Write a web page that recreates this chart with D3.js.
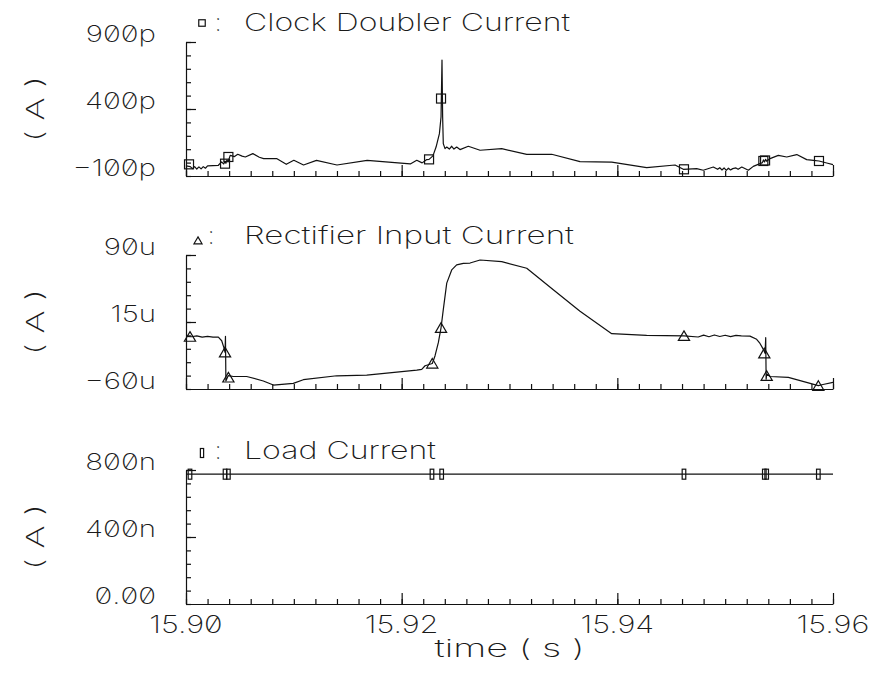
<!DOCTYPE html>
<html>
<head>
<meta charset="utf-8">
<script src="https://cdn.jsdelivr.net/npm/d3@7"></script>
<style>
  html, body { margin: 0; padding: 0; background: #fff; }
  svg { display: block; }
  text {
    font-family: Inter, "DejaVu Sans", sans-serif;
    font-weight: 200;
    fill: #1a1a1a;
  }
  /* zeros are shaped in their own runs so the slashed form is used */
  tspan.z { font-feature-settings: "zero" 1; }
</style>
</head>
<body>
<svg id="chart" width="878" height="675"></svg>
<script>
// ---- time axis -------------------------------------------------------
const timeDomain = [15.90, 15.96];
const timeMajorTicks = [15.90, 15.92, 15.94, 15.96];
const timeTickLabels = ["15.90", "15.92", "15.94", "15.96"];
const timeAxisTitle = "time ( s )";

// ---- Clock Doubler Current (pA) --------------------------------------
const clockTime = [
  15.90000, 15.90040, 15.90060, 15.90080, 15.90100, 15.90120, 15.90140, 15.90160,
  15.90180, 15.90200, 15.90250, 15.90300, 15.90330, 15.90350, 15.90360, 15.90370,
  15.90380, 15.90390, 15.90410, 15.90450, 15.90480, 15.90520, 15.90550, 15.90620,
  15.90680, 15.90720, 15.90840, 15.90930, 15.91000, 15.91090, 15.91210, 15.91400,
  15.91680, 15.92080, 15.92140, 15.92190, 15.92230, 15.92254, 15.92290, 15.92319,
  15.92350, 15.92365, 15.92374, 15.92380, 15.92386, 15.92402, 15.92418, 15.92442,
  15.92464, 15.92485, 15.92510, 15.92541, 15.92618, 15.92727, 15.92928, 15.93160,
  15.93391, 15.93654, 15.93948, 15.94272, 15.94535, 15.94612, 15.94736, 15.94797,
  15.94890, 15.94930, 15.94950, 15.94970, 15.94990, 15.95010, 15.95030, 15.95050,
  15.95070, 15.95100, 15.95120, 15.95154, 15.95215, 15.95261, 15.95323, 15.95345,
  15.95355, 15.95365, 15.95375, 15.95385, 15.95416, 15.95493, 15.95571, 15.95664,
  15.95756, 15.95818, 15.95870, 15.95942, 15.96000
];
const clockCurrent = [
  -25, -30, -45, -30, -48, -32, -47, -30,
  -42, -25, -22, -20, 5, -10, 10, -5,
  20, 5, 54, 45, 62, 48, 42, 67,
  40, 30, 30, -13, 17, -18, 17, -18,
  17, -10, 17, -2, 22, 24, 50, 116,
  216, 340, 765, 340, 142, 104, 116, 101,
  122, 101, 116, 97, 122, 92, 104, 62,
  62, 7, 4, -37, -18, -50, -45, -57,
  -33, -50, -38, -55, -40, -58, -42, -55,
  -45, -40, -50, -33, -57, -28, -8, 0,
  20, 5, 25, 10, 30, 54, 42, 60,
  22, 17, 12, -3, -15
];
const clockMarkerTime = [15.90028, 15.90362, 15.90393, 15.92254, 15.92365, 15.94618, 15.95354, 15.95370, 15.95870];
const clockMarkerValue = [-13, -8, 42, 24, 478, -50, 12, 16, 12];

// ---- Rectifier Input Current (uA) ------------------------------------
const rectTime = [
  15.90000, 15.90050, 15.90100, 15.90150, 15.90200, 15.90250, 15.90300, 15.90331,
  15.90352, 15.90362, 15.90366, 15.90370, 15.90392, 15.90439, 15.90563, 15.90717,
  15.90810, 15.90995, 15.91088, 15.91398, 15.91676, 15.92140, 15.92186, 15.92217,
  15.92284, 15.92309, 15.92340, 15.92365, 15.92386, 15.92418, 15.92464, 15.92510,
  15.92572, 15.92634, 15.92727, 15.92928, 15.93160, 15.93406, 15.93654, 15.93948,
  15.94272, 15.94618, 15.94750, 15.94800, 15.94850, 15.94900, 15.94950, 15.95000,
  15.95050, 15.95100, 15.95150, 15.95230, 15.95292, 15.95323, 15.95354, 15.95370,
  15.95376, 15.95380, 15.95385, 15.95416, 15.95586, 15.95864, 15.95907, 15.96000
];
const rectCurrent = [
  -1, -1.5, -0.5, -2, -1, -2, -2, -6,
  -14, -19, -1, -51, -45, -46, -46, -51,
  -55.6, -53.7, -49.6, -45.2, -44.4, -38.9, -38, -34,
  -31.4, -23, -8.1, 8.5, 28.9, 58.5, 73.3, 78.9,
  80.7, 81, 84.4, 82.6, 75.2, 51.1, 27, 1.9,
  0, -0.5, -1.8, 0.3, -1.5, 0.5, -1.2, 0.2,
  -1.4, 0, -0.5, -0.8, -4.4, -9, -15.6, -20,
  -2.6, -49, -43.3, -46, -47, -56.3, -55, -52.6
];
const rectMarkerTime = [15.90037, 15.90362, 15.90393, 15.92284, 15.92365, 15.94618, 15.95363, 15.95385, 15.95864];
const rectMarkerValue = [-1.4, -18.9, -47, -31.4, 8.5, -0.5, -20, -45.2, -56.3];

// ---- Load Current (nA) -----------------------------------------------
const loadTime = [15.90, 15.96];
const loadCurrent = [775, 775];
const loadMarkerTime = [15.90037, 15.90362, 15.90393, 15.92281, 15.92371, 15.94618, 15.95363, 15.95385, 15.95864];
const loadMarkerValue = [775, 775, 775, 775, 775, 775, 775, 775, 775];

// ---- y-axis ticks ----------------------------------------------------
const clockTicks = [900, 400, -100];
const clockTickLabels = ["900p", "400p", "\u2212100p"];
const rectTicks = [90, 15, -60];
const rectTickLabels = ["90u", "15u", "\u221260u"];
const loadTicks = [800, 400, 0];
const loadTickLabels = ["800n", "400n", "0.00"];

const unitLabel = "( A )";

// ---- layout ----------------------------------------------------------
const svg = d3.select("#chart");
const plotLeft = 186, plotRight = 833, plotHeight = 134;
const ink = "#111";

const x = d3.scaleLinear().domain(timeDomain).range([plotLeft, plotRight]);

const panels = [
  { top: 42,  title: "Clock Doubler Current",   marker: "square",
    titleWidth: 326, colonX: 218,
    domain: [-100, 900], ticks: clockTicks, tickLabels: clockTickLabels,
    t: clockTime, v: clockCurrent, mt: clockMarkerTime, mv: clockMarkerValue },
  { top: 255, title: "Rectifier Input Current", marker: "triangle",
    titleWidth: 330, colonX: 211,
    domain: [-60, 90], ticks: rectTicks, tickLabels: rectTickLabels,
    t: rectTime, v: rectCurrent, mt: rectMarkerTime, mv: rectMarkerValue },
  { top: 470, title: "Load Current",            marker: "bar",
    titleWidth: 192, colonX: 218,
    domain: [0, 800], ticks: loadTicks, tickLabels: loadTickLabels,
    t: loadTime, v: loadCurrent, mt: loadMarkerTime, mv: loadMarkerValue }
];

// numeric label: zeros go in their own tspans
function setNumber(sel, str) {
  (str.match(/0+|[^0]+/g) || []).forEach(s => {
    sel.append("tspan").attr("class", s[0] === "0" ? "z" : null).text(s);
  });
  return sel;
}
function fitWidth(sel, width) {
  sel.attr("textLength", width).attr("lengthAdjust", "spacingAndGlyphs");
}
function stretch(sel, k) {
  sel.each(function () {
    const w = this.getComputedTextLength();
    d3.select(this).attr("textLength", w * k).attr("lengthAdjust", "spacingAndGlyphs");
  });
}

// marker shapes, drawn centred on (0,0)
function drawMarker(g, kind, scale) {
  const s = scale || 1;
  if (kind === "square") {
    g.append("rect").attr("x", -4.5 * s).attr("y", -4.5 * s)
      .attr("width", 9 * s).attr("height", 9 * s);
  } else if (kind === "triangle") {
    g.append("path").attr("d", `M0,${-5 * s}L${5.6 * s},${4.6 * s}L${-5.6 * s},${4.6 * s}Z`);
  } else {
    g.append("rect").attr("x", -1.8 * s).attr("y", -5 * s)
      .attr("width", 3.6 * s).attr("height", 10 * s);
  }
  g.attr("fill", "none").attr("stroke", ink).attr("stroke-width", 1.2);
}

panels.forEach(p => {
  const bottom = p.top + plotHeight;
  const y = d3.scaleLinear().domain(p.domain).range([bottom, p.top]);
  const g = svg.append("g");

  // time ticks along the bottom edge
  const minorT = d3.range(0, 31).map(i => timeDomain[0] + i * 0.002);
  g.append("g").attr("transform", `translate(0,${bottom})`)
    .call(d3.axisTop(x).tickValues(minorT).tickSize(5).tickSizeOuter(0).tickFormat(""));
  g.append("g").attr("transform", `translate(0,${bottom})`)
    .call(d3.axisTop(x).tickValues(timeMajorTicks).tickSize(11).tickSizeOuter(0).tickFormat(""))
    .select(".domain").remove();

  // value ticks along the left edge
  const [y0, y1] = p.domain;
  const yMinorVals = d3.range(0, 11).map(i => y0 + i * (y1 - y0) / 10);
  g.append("g").attr("transform", `translate(${plotLeft},0)`)
    .call(d3.axisRight(y).tickValues(yMinorVals).tickSize(5).tickSizeOuter(0).tickFormat(""));
  g.append("g").attr("transform", `translate(${plotLeft},0)`)
    .call(d3.axisRight(y).tickValues([p.ticks[0], p.ticks[1]]).tickSize(10).tickSizeOuter(0).tickFormat(""))
    .select(".domain").remove();

  g.selectAll(".domain, .tick line").attr("stroke", ink).attr("stroke-width", 1.2);

  // value tick labels
  p.ticks.forEach((v, i) => {
    const t = g.append("text").attr("x", 156).attr("y", y(v))
      .attr("text-anchor", "end").attr("font-size", 23);
    setNumber(t, p.tickLabels[i]);
    stretch(t, 1.28);
  });

  // unit label
  const ul = g.append("text")
    .attr("transform", `translate(43.5,${(p.top + bottom) / 2}) rotate(-90)`)
    .attr("text-anchor", "middle").attr("font-size", 24).text(unitLabel);
  fitWidth(ul, 66);

  // title with legend marker
  const baseline = p.top - 11;
  const mk = g.append("g").attr("transform",
    p.marker === "square" ? `translate(202,${baseline - 8})` :
    p.marker === "triangle" ? `translate(198,${baseline - 3.5})` :
    `translate(202,${baseline - 6})`);
  drawMarker(mk, p.marker, p.marker === "bar" ? 0.9 : 0.72);
  g.append("text").attr("x", p.colonX).attr("y", baseline)
    .attr("text-anchor", "middle").attr("font-size", 24).text(":");
  const tt = g.append("text").attr("x", 244).attr("y", baseline)
    .attr("font-size", 24).text(p.title);
  fitWidth(tt, p.titleWidth);

  // waveform
  const pts = p.t.map((t, i) => ({ t, v: p.v[i] }));
  g.append("path").datum(pts)
    .attr("fill", "none").attr("stroke", ink).attr("stroke-width", 1.2)
    .attr("stroke-linejoin", "round")
    .attr("d", d3.line().x(d => x(d.t)).y(d => y(d.v)));

  // markers on the waveform
  p.mt.forEach((t, i) => {
    const m = g.append("g").attr("transform", `translate(${x(t)},${y(p.mv[i])})`);
    drawMarker(m, p.marker, 1);
  });
});

// time tick labels and axis title
const lastBottom = panels[2].top + plotHeight;
timeMajorTicks.forEach((t, i) => {
  const lbl = svg.append("text").attr("x", x(t)).attr("y", lastBottom + 29)
    .attr("text-anchor", "middle").attr("font-size", 24);
  setNumber(lbl, timeTickLabels[i]);
  stretch(lbl, 1.28);
});
const xt = svg.append("text").attr("x", (plotLeft + plotRight) / 2).attr("y", lastBottom + 53)
  .attr("text-anchor", "middle").attr("font-size", 24).text(timeAxisTitle);
fitWidth(xt, 150);
</script>
</body>
</html>
